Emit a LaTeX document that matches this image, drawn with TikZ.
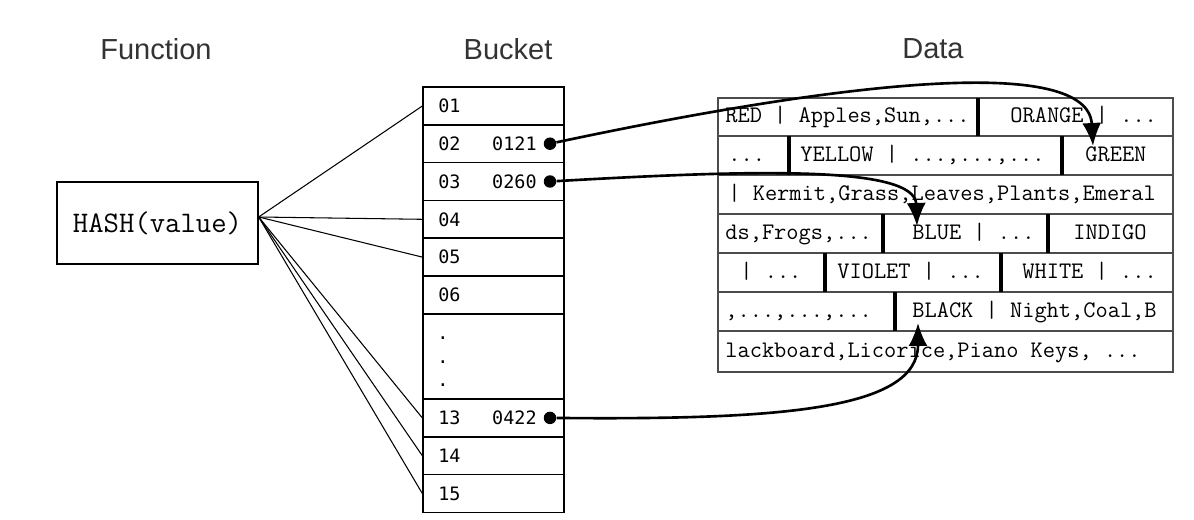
\documentclass[tikz,border=0pt]{standalone}
\usepackage{fontspec}
\setsansfont{Liberation Sans}
\newfontfamily\digitfont{DejaVu Sans Mono}
\usetikzlibrary{arrows.meta}

\begin{document}
\begin{tikzpicture}[x=0.02cm, y=-0.02cm,
    title/.style={font=\sffamily\fontsize{16.5}{18}\selectfont, text=black!80},
    slot/.style={draw, line width=0.8pt, minimum width=2.82cm, minimum height=0.756cm, inner sep=0pt},
    idx/.style={font=\digitfont\fontsize{10.5}{12}\selectfont, anchor=west, inner sep=0pt},
    cell/.style={font=\ttfamily\fontsize{13.5}{16}\selectfont, anchor=base west, inner sep=0pt},
    grid/.style={draw=black!70, line width=0.8pt},
    sep/.style={line width=1.8pt},
    pin/.style={circle, fill, inner sep=0pt, minimum size=0.25cm},
    link/.style={line width=1.5pt, -{Latex[length=0.46cm, width=0.38cm]}}]
    \useasboundingbox (0,0) rectangle (1194,520);

    % the titles
    \node[title] (tfunc) at (156,49) {Function};
    \node[title] (tbucket) at (508,49) {Bucket};
    \node[title] (tdata) at (933,49) {Data};

    % the hash function
    \node[draw, line width=0.8pt, minimum width=4.02cm, minimum height=1.64cm,
          font=\ttfamily\fontsize{17}{20}\selectfont] (hash) at (157.5,223) {HASH(value)};
    \coordinate (fan) at ([yshift=0.12cm]hash.east);

    % the buckets
    \foreach \n/\y in {01/106, 02/143.7, 03/181.5, 04/219.3, 05/257.1, 06/294.9,
                       13/417.9, 14/455.7, 15/493.5} {
        \node[slot] (b\n) at (493.5,\y) {};
        \node[idx] (l\n) at (438,\y) {\n};
    }
    \node[slot, minimum height=1.704cm] (bdots) at (493.5,356.4) {};
    \foreach \k/\y in {1/338, 2/362, 3/385}
        \node[idx] (d\k) at (437,\y) {.};

    % the stored values
    \node[idx, anchor=east] (v02) at (537,143.7) {0121};
    \node[idx, anchor=east] (v03) at (537,181.5) {0260};
    \node[idx, anchor=east] (v13) at (537,417.9) {0422};
    \node[pin] (p02) at (550,143.7) {};
    \node[pin] (p03) at (550,181.5) {};
    \node[pin] (p13) at (550,417.9) {};

    % hash to buckets
    \foreach \n in {01,04,05,13,14,15}
        \draw[line width=0.6pt] (fan) -- (b\n.west);

    % the data table
    \draw[grid] (718,98) rectangle (1173,372);
    \foreach \y in {136,175,214,253,292,331}
        \draw[grid] (718,\y) -- (1173,\y);
    \foreach \x/\ya/\yb in {978/98/136, 789/136/175, 1062/136/175, 883/214/253,
                            1048/214/253, 825/253/292, 1001/253/292, 895/292/331}
        \draw[sep] (\x,\ya) -- (\x,\yb);

    \node[cell] (red) at (725,123) {RED | Apples,Sun,...};
    \node[cell] (orange) at (1010,123) {ORANGE | ...};
    \node[cell] (r2a) at (728,161.5) {...};
    \node[cell] (yellow) at (800,161.5) {YELLOW | ...,...,...};
    \node[cell] (green) at (1085,161.5) {GREEN};
    \node[cell] (r3a) at (728,200.5) {| Kermit,Grass,Leaves,Plants,Emeral};
    \node[cell] (r4a) at (725,239.5) {ds,Frogs,...};
    \node[cell] (blue) at (912,239.5) {BLUE | ...};
    \node[cell] (indigo) at (1073,239.5) {INDIGO};
    \node[cell] (r5a) at (740,278.5) {| ...};
    \node[cell] (violet) at (837,278.5) {VIOLET | ...};
    \node[cell] (white) at (1022,278.5) {WHITE | ...};
    \node[cell] (r6a) at (725,317.5) {,...,...,...};
    \node[cell] (black) at (912,317.5) {BLACK | Night,Coal,B};
    \node[cell] (r7a) at (725,357.5) {lackboard,Licorice,Piano Keys, ...};

    % the pointers into the data
    \coordinate (tgreen) at (1093,146);
    \coordinate (tblue) at (917,226);
    \coordinate (tblack) at (918,323);
    \draw[link] (p02) .. controls (850,80) and (1088,55) .. (tgreen);
    \draw[link] (p03) .. controls (750,170) and (915,165) .. (tblue);
    \draw[link] (p13) .. controls (780,420) and (918,410) .. (tblack);
\end{tikzpicture}
\end{document}
